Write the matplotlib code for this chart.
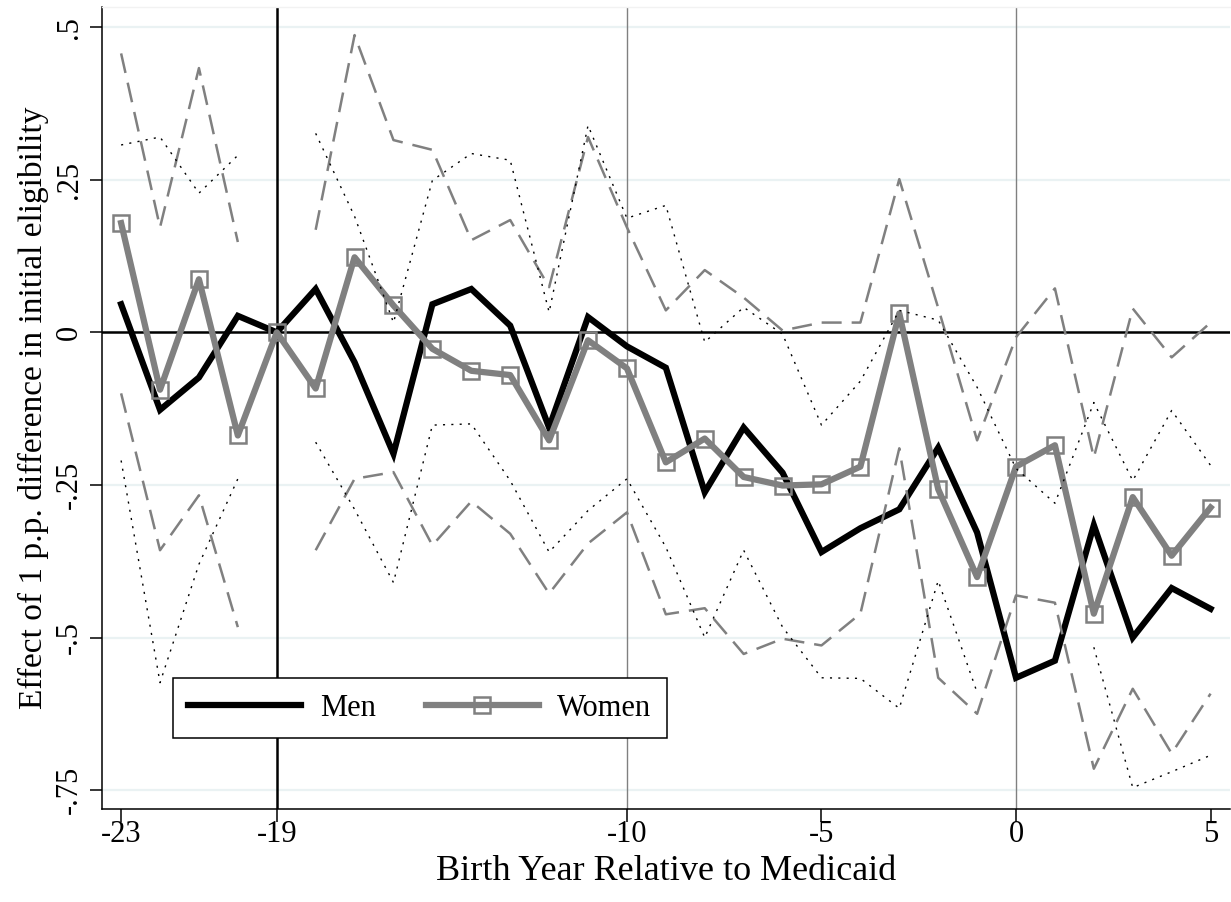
import numpy as np
import matplotlib
matplotlib.use("Agg")
import matplotlib.pyplot as plt
from matplotlib.lines import Line2D

nan = np.nan
years = list(range(-23, 6))

men = [0.046, -0.127, -0.074, 0.027, 0.0, 0.071, -0.049, -0.199, 0.046, 0.071,
       0.011, -0.156, 0.025, -0.023, -0.058, -0.262, -0.156, -0.230, -0.360, -0.321,
       -0.290, -0.189, -0.328, -0.566, -0.538, -0.316, -0.500, -0.419, -0.453]
men_hi = [0.307, 0.320, 0.228, 0.290, nan, 0.326, 0.190, 0.016, 0.249, 0.293,
          0.282, 0.033, 0.339, 0.187, 0.208, -0.016, 0.041, -0.003, -0.152, -0.080,
          0.036, 0.020, -0.090, -0.223, -0.280, -0.115, -0.243, -0.128, -0.218]
men_lo = [-0.210, -0.574, -0.380, -0.240, nan, -0.180, -0.290, -0.410, -0.152, -0.150,
          -0.243, -0.360, -0.292, -0.240, -0.352, -0.500, -0.357, -0.483, -0.566, -0.567,
          -0.616, -0.407, -0.590, nan, nan, -0.516, -0.746, -0.720, -0.693]

women = [0.179, -0.094, 0.087, -0.169, 0.0, -0.092, 0.123, 0.044, -0.027, -0.063,
         -0.070, -0.177, -0.013, -0.059, -0.213, -0.174, -0.237, -0.251, -0.249, -0.220,
         0.031, -0.257, -0.401, -0.220, -0.185, -0.461, -0.270, -0.366, -0.287]
women_hi = [0.457, 0.172, 0.433, 0.148, nan, 0.168, 0.487, 0.315, 0.299, 0.151,
            0.184, 0.074, 0.320, 0.172, 0.036, 0.102, 0.057, 0.003, 0.016, 0.016,
            0.251, 0.040, -0.177, -0.008, 0.072, -0.205, 0.039, -0.041, 0.016]
women_lo = [-0.100, -0.357, -0.267, -0.483, nan, -0.357, -0.240, -0.229, -0.349, -0.277,
            -0.330, -0.428, -0.346, -0.295, -0.462, -0.452, -0.527, -0.502, -0.513, -0.461,
            -0.190, -0.566, -0.625, -0.431, -0.443, -0.715, -0.584, -0.690, -0.592]

xticks = [-23, -19, -10, -5, 0, 5]
xticklabels = ["-23", "-19", "-10", "-5", "0", "5"]
yticks = [-0.75, -0.5, -0.25, 0, 0.25, 0.5]
yticklabels = ["-.75", "-.5", "-.25", "0", ".25", ".5"]

plt.rcParams['font.family'] = ['Liberation Serif', 'DejaVu Serif']

GRAY = '#808080'
fs = 22

fig = plt.figure(figsize=(12.31, 9.02), dpi=100)
ax = fig.add_axes([0.0829, 0.1031, 0.9163, 0.8891])
ax.set_xlim(-23.49, 5.5)
ax.set_ylim(-0.781, 0.533)

# grid
for yv in yticks:
    ax.axhline(yv, color='#eaf2f3', lw=1.6, zorder=0)

# reference lines
ax.axvline(-19, color='black', lw=1.8, zorder=1)
ax.axvline(-10, color=GRAY, lw=1.0, zorder=1)
ax.axvline(0, color=GRAY, lw=1.0, zorder=1)
ax.axhline(0, color='black', lw=1.8, zorder=1)

# estimates
ax.plot(years, men, color='black', lw=4.5, solid_joinstyle='miter', zorder=3)
ax.plot(years, women, color=GRAY, lw=4.5, marker='s', markersize=12,
        markerfacecolor='none', markeredgecolor=GRAY, markeredgewidth=1.8, zorder=4)

# confidence bands
ax.plot(years, women_hi, color=GRAY, lw=1.8, dashes=(8, 4), zorder=5)
ax.plot(years, women_lo, color=GRAY, lw=1.8, dashes=(8, 4), zorder=5)
ax.plot(years, men_hi, color='black', lw=1.0, dashes=(1.5, 4.5), zorder=5)
ax.plot(years, men_lo, color='black', lw=1.0, dashes=(1.5, 4.5), zorder=5)

# axes styling
ax.spines['right'].set_visible(False)
ax.spines['top'].set_color('#f2f2f2')
ax.spines['top'].set_linewidth(1.0)
for s in ['left', 'bottom']:
    ax.spines[s].set_linewidth(1.1)
ax.set_xticks(xticks)
ax.set_xticklabels(xticklabels, fontsize=fs)
ax.set_yticks(yticks)
ax.set_yticklabels(yticklabels, fontsize=fs, rotation=90, va='center')
ax.tick_params(axis='both', direction='out', length=9, width=1.1)
ax.tick_params(axis='x', pad=-1)
ax.tick_params(axis='y', pad=4)

ax.set_xlabel('Birth Year Relative to Medicaid', fontsize=26, labelpad=4)
ax.set_ylabel('Effect of 1 p.p. difference in initial eligibility', fontsize=24, labelpad=4)

handles = [Line2D([], [], color='black', lw=4.5),
           Line2D([], [], color=GRAY, lw=4.5, marker='s', markersize=12,
                  markerfacecolor='none', markeredgecolor=GRAY, markeredgewidth=1.8)]
leg = ax.legend(handles, ['Men', 'Women'], ncol=2, loc='lower left',
                bbox_to_anchor=(0.0629, 0.0885), borderaxespad=0, fontsize=fs,
                frameon=True, fancybox=False, edgecolor='black', framealpha=1,
                handlelength=3.7, handletextpad=0.6, columnspacing=1.65,
                borderpad=0.5)
leg.get_frame().set_linewidth(1.1)

fig.savefig('out.png', dpi=100)
